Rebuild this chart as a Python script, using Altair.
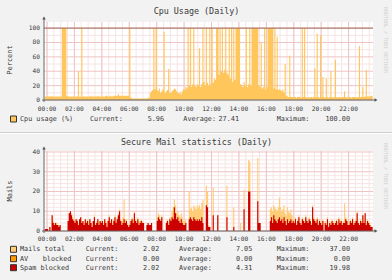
import altair as alt
import pandas as pd

# ---------------- data (5-minute steps, first step starts 23:50 of the previous day) -------------
cpu_usage = [
    5, 5,
    5, 5, 5, 6, 5, 5, 5, 5, 5, 5, 5, 5,            # 00
    5, 100, 100, 100, 100, 6, 5, 5, 5, 5, 5, 5,    # 01
    5, 5, 5, 40, 5, 5, 100, 5, 5, 5, 5, 5,         # 02
    5, 5, 6, 5, 5, 5, 5, 5, 6, 5, 5, 5,            # 03
    5, 5, 5, 6, 6, 5, 5, 6, 5, 5, 6, 6,            # 04
    6, 6, 8, 6, 6, 6, 6, 6, 6, 6, 6, 6,            # 05
    100, 3, 2, 2, 2, 2, 2, 2, 2, 2, 2, 2,          # 06
    2, 2, 2, 2, 3, 3, 10, 12, 14, 100, 15, 100,    # 07
    14, 12, 16, 10, 12, 15, 95, 10, 12, 14, 43, 10,  # 08
    10, 12, 14, 16, 15, 12, 10, 9, 11, 8, 12, 15,  # 09
    14, 18, 16, 100, 20, 100, 18, 22, 100, 20, 18, 22,  # 10
    20, 72, 18, 22, 100, 25, 20, 100, 24, 20, 100, 22,  # 11
    100, 24, 30, 28, 100, 100, 35, 100, 40, 100, 38, 42,  # 12
    100, 38, 35, 100, 30, 100, 25, 100, 28, 100, 100, 100,  # 13
    100, 22, 20, 18, 25, 20, 100, 18, 22, 100, 20, 100,  # 14
    100, 100, 100, 100, 100, 20, 18, 80, 16, 18, 100, 15,  # 15
    18, 100, 100, 100, 100, 100, 16, 100, 15, 88, 14, 15,  # 16
    14, 12, 15, 10, 50, 6, 5, 4, 62, 4, 4, 4,      # 17
    4, 4, 3, 4, 4, 4, 3, 100, 4, 100, 4, 3,        # 18
    4, 3, 4, 4, 3, 4, 44, 4, 92, 4, 3, 90,         # 19
    4, 32, 4, 3, 30, 4, 3, 4, 40, 4, 3, 4,         # 20
    56, 4, 3, 4, 4, 3, 4, 4, 12, 4, 3, 4,          # 21
    4, 4, 3, 4, 4, 4, 3, 4, 4, 75, 4, 4,           # 22
    18, 4, 5, 42, 5, 5, 5, 6, 6,                   # 23
]

mails_total = [
    1, 1,
    1, 0, 2, 0, 8, 5, 4, 4, 4, 3, 3, 3,            # 00
    0, 0, 0, 0, 0, 0, 5, 9, 10, 9, 7, 6,           # 01
    5, 6, 6, 4, 6, 7, 5, 5, 4, 6, 5, 6,            # 02
    4, 6, 5, 3, 5, 8, 4, 5, 6, 4, 5, 5,            # 03
    5, 4, 6, 5, 3, 6, 8, 5, 6, 4, 6, 8,            # 04
    5, 7, 9, 11, 6, 5, 7, 16, 6, 6, 4, 3,          # 05
    4, 6, 7, 6, 10, 6, 5, 7, 5, 5, 6, 5,           # 06
    4, 0, 0, 3, 4, 3, 3, 4, 0, 0, 0, 0,            # 07
    7, 9, 8, 6, 8, 0, 0, 0, 5, 6, 4, 7,            # 08
    7, 10, 12, 16, 13, 9, 10, 8, 7, 9, 7, 5,       # 09
    5, 6, 0, 0, 20, 11, 12, 10, 13, 12, 11, 13,    # 10
    12, 13, 11, 14, 16, 0, 0, 23, 20, 3, 2, 0,     # 11
    0, 22, 0, 0, 0, 8, 0, 0, 0, 0, 0, 0,           # 12
    0, 23, 0, 0, 0, 0, 0, 12, 0, 0, 0, 0,          # 13
    0, 4, 0, 0, 21, 0, 0, 0, 36, 35, 0, 0,         # 14
    0, 0, 0, 0, 37, 4, 4, 0, 0, 0, 0, 0,           # 15
    0, 0, 0, 11, 12, 10, 13, 12, 11, 10, 12, 17,   # 16
    12, 10, 11, 13, 9, 8, 12, 10, 9, 11, 8, 6,     # 17
    5, 7, 4, 6, 8, 5, 4, 7, 6, 5, 8, 6,            # 18
    5, 7, 6, 4, 13, 7, 6, 5, 7, 4, 6, 5,           # 19
    4, 6, 0, 5, 4, 7, 3, 5, 4, 6, 5, 4,            # 20
    5, 6, 4, 7, 5, 6, 4, 5, 14, 7, 6, 4,           # 21
    4, 6, 5, 7, 4, 5, 6, 10, 5, 4, 6, 5,           # 22
    8, 5, 9, 4, 6, 5, 4, 3, 2,                     # 23
]

spam_blocked = [
    1, 1,
    1, 0, 2, 0, 8, 4, 3, 4, 3, 3, 2, 3,            # 00
    0, 0, 0, 0, 0, 0, 5, 9, 10, 8, 6, 5,           # 01
    4, 6, 5, 3, 6, 7, 4, 5, 3, 6, 4, 5,            # 02
    3, 6, 4, 2, 5, 7, 3, 4, 6, 3, 5, 4,            # 03
    5, 3, 6, 4, 2, 5, 7, 4, 6, 3, 5, 7,            # 04
    4, 6, 8, 10, 5, 3, 4, 6, 4, 5, 3, 2,           # 05
    3, 5, 6, 4, 9, 5, 4, 6, 3, 4, 5, 4,            # 06
    4, 0, 0, 3, 4, 3, 3, 4, 0, 0, 0, 0,            # 07
    5, 7, 6, 5, 7, 0, 0, 0, 4, 5, 3, 6,            # 08
    5, 7, 6, 12, 9, 6, 7, 5, 4, 6, 4, 3,           # 09
    3, 4, 0, 0, 6, 7, 6, 5, 7, 6, 5, 6,            # 10
    5, 6, 5, 7, 4, 0, 0, 13, 12, 2, 2, 0,          # 11
    0, 8, 0, 0, 0, 8, 0, 0, 0, 0, 0, 0,            # 12
    0, 7, 0, 0, 0, 0, 0, 2, 0, 0, 0, 0,            # 13
    0, 0, 0, 0, 11, 0, 0, 0, 20, 20, 0, 0,         # 14
    0, 0, 0, 0, 15, 4, 4, 0, 0, 0, 0, 0,           # 15
    0, 0, 0, 5, 7, 4, 8, 6, 5, 4, 6, 7,            # 16
    5, 6, 4, 7, 5, 3, 6, 4, 5, 6, 4, 5,            # 17
    4, 6, 3, 5, 7, 4, 3, 6, 5, 4, 7, 5,            # 18
    4, 6, 5, 3, 12, 6, 5, 4, 6, 3, 5, 4,           # 19
    3, 5, 0, 4, 3, 6, 2, 4, 3, 5, 4, 3,            # 20
    4, 5, 3, 6, 4, 5, 3, 4, 4, 6, 5, 3,            # 21
    3, 5, 4, 6, 3, 4, 5, 9, 4, 3, 5, 4,            # 22
    8, 4, 9, 3, 5, 4, 3, 2, 2,                     # 23
]

hour_ticks = [0, 2, 4, 6, 8, 10, 12, 14, 16, 18, 20, 22]
hour_labels = ["00:00", "02:00", "04:00", "06:00", "08:00", "10:00",
               "12:00", "14:00", "16:00", "18:00", "20:00", "22:00"]
half_hours = [0, 0.5, 1, 1.5, 2, 2.5, 3, 3.5, 4, 4.5, 5, 5.5, 6, 6.5, 7, 7.5,
              8, 8.5, 9, 9.5, 10, 10.5, 11, 11.5, 12, 12.5, 13, 13.5, 14, 14.5,
              15, 15.5, 16, 16.5, 17, 17.5, 18, 18.5, 19, 19.5, 20, 20.5, 21,
              21.5, 22, 22.5, 23, 23.5]
cpu_ticks = [0, 20, 40, 60, 80, 100]
cpu_minor = [10, 30, 50, 70, 90]
mail_ticks = [0, 10, 20, 30, 40]
mail_minor = [2, 4, 6, 8, 12, 14, 16, 18, 22, 24, 26, 28, 32, 34, 36, 38]

cpu_legend = ["5.96", "27.41", "100.00"]
mail_legend = [["2.02", "7.05", "37.00"], ["0.00", "0.00", "0.00"], ["2.02", "4.31", "19.98"]]

# ---------------- layout / style ---------------------------------------------------------------
FONT = "DejaVu Sans Mono"
TXT = "#3a3a3a"
X0, X1 = 44, 373
T0, T1 = -0.22, 23.78
C_TOP, C_BOT = 22, 100
M_TOP, M_BOT = 151, 231
MINOR = "#f7e4e4"
MAJOR = "#efc4c4"
C_CPU = "#ffc65c"
C_TOTAL = "#ffcc77"
C_AV = "#ff9900"
C_SPAM = "#cc0000"
LEG = 6.8

xs = alt.Scale(domain=[T0, T1], range=[X0, X1], nice=False, zero=False)
cs = alt.Scale(domain=[0, 108.5], range=[C_BOT, C_TOP], nice=False, zero=False)
ms = alt.Scale(domain=[0, 40.5], range=[M_BOT, M_TOP], nice=False, zero=False)


def series(vals):
    step = 5 / 60
    t = [(-10 / 60) + i * step for i in range(len(vals))]
    t.append(t[-1] + step)
    v = list(vals) + [vals[-1]]
    return pd.DataFrame({"t": t, "v": v})


ONE = pd.DataFrame({"a": [0]})


def text(s, x, y, align="left", size=LEG, color=TXT, angle=0):
    kw = dict(text=s, align=align, baseline="middle", font=FONT, fontSize=size, color=color)
    if angle:
        kw["angle"] = angle
    return alt.Chart(ONE).mark_text(**kw).encode(x=alt.value(x), y=alt.value(y))


def rect(x, x2, y, y2, fill, stroke=None):
    kw = dict(color=fill)
    if stroke:
        kw["stroke"] = stroke
        kw["strokeWidth"] = 1
    return alt.Chart(ONE).mark_rect(**kw).encode(
        x=alt.value(x), x2=alt.value(x2), y=alt.value(y), y2=alt.value(y2))


def hline(x, x2, y, color, w=1):
    return alt.Chart(ONE).mark_rule(color=color, strokeWidth=w).encode(
        x=alt.value(x), x2=alt.value(x2), y=alt.value(y))


def vline(x, y, y2, color, w=1):
    return alt.Chart(ONE).mark_rule(color=color, strokeWidth=w).encode(
        x=alt.value(x), y=alt.value(y), y2=alt.value(y2))


def arrow(x, y, shape):
    return alt.Chart(ONE).mark_point(shape=shape, filled=True, size=12, color="#555", opacity=1).encode(
        x=alt.value(x), y=alt.value(y))


def vgrid(vals, top, bot, color):
    return alt.Chart(pd.DataFrame({"t": vals})).mark_rule(color=color, strokeWidth=1).encode(
        x=alt.X("t:Q", scale=xs, axis=None), y=alt.value(top), y2=alt.value(bot))


def hgrid(vals, scale, color):
    return alt.Chart(pd.DataFrame({"v": vals})).mark_rule(color=color, strokeWidth=1).encode(
        y=alt.Y("v:Q", scale=scale, axis=None), x=alt.value(X0), x2=alt.value(X1))


def area(vals, scale, color):
    return alt.Chart(series(vals)).mark_area(interpolate="step-after", color=color, opacity=1).encode(
        x=alt.X("t:Q", scale=xs, axis=None), y=alt.Y("v:Q", scale=scale, axis=None))


def xlabels(y):
    df = pd.DataFrame({"t": hour_ticks, "lab": hour_labels})
    return alt.Chart(df).mark_text(font=FONT, fontSize=6.2, color=TXT, baseline="middle", align="center").encode(
        x=alt.X("t:Q", scale=xs, axis=None), y=alt.value(y), text="lab:N")


def ylabels(vals, scale):
    df = pd.DataFrame({"v": vals, "lab": [str(v) for v in vals]})
    return alt.Chart(df).mark_text(font=FONT, fontSize=6.2, color=TXT, baseline="middle", align="right").encode(
        y=alt.Y("v:Q", scale=scale, axis=None), x=alt.value(40), text="lab:N")


layers = [
    # panel frames
    rect(0, 392, 0, 132, "#f2f2f2"),
    rect(0, 392, 134, 280, "#f2f2f2"),
    hline(0, 392, 132.5, "#cfcfcf"),
    hline(0, 392, 133.5, "#ffffff"),
    # plot backgrounds
    rect(X0, X1, C_TOP, C_BOT, "#ffffff"),
    rect(X0, X1, M_TOP, M_BOT, "#ffffff"),
    # grids
    vgrid(half_hours, C_TOP, C_BOT, MINOR),
    hgrid(cpu_minor, cs, MINOR),
    vgrid(hour_ticks, C_TOP, C_BOT, MAJOR),
    hgrid(cpu_ticks, cs, MAJOR),
    vgrid(half_hours, M_TOP, M_BOT, MINOR),
    hgrid(mail_minor, ms, MINOR),
    vgrid(hour_ticks, M_TOP, M_BOT, MAJOR),
    hgrid(mail_ticks, ms, MAJOR),
    # data
    area(cpu_usage, cs, C_CPU),
    area(mails_total, ms, C_TOTAL),
    area(spam_blocked, ms, C_SPAM),
    # 100% rule
    alt.Chart(pd.DataFrame({"v": [100]})).mark_rule(color="#a06a5a", strokeWidth=1).encode(
        y=alt.Y("v:Q", scale=cs, axis=None), x=alt.value(X0), x2=alt.value(X1)),
    # axes
    hline(X0 - 2, X1 + 2, C_BOT, "#666666"),
    vline(X0, 18, C_BOT + 2, "#666666"),
    arrow(X1 + 3, C_BOT, "triangle-right"),
    arrow(X0, 18, "triangle-up"),
    hline(X0 - 2, X1 + 2, M_BOT, "#666666"),
    vline(X0, 148, M_BOT + 2, "#666666"),
    arrow(X1 + 3, M_BOT, "triangle-right"),
    arrow(X0, 148, "triangle-up"),
    # tick labels
    xlabels(108.5),
    ylabels(cpu_ticks, cs),
    xlabels(239),
    ylabels(mail_ticks, ms),
    # titles
    text("Cpu Usage (Daily)", 196.5, 11, "center", 8.4),
    text("Secure Mail statistics (Daily)", 196.5, 141.5, "center", 8.4),
    text("Percent", 10, 60, "center", 7, angle=270),
    text("Mails", 10, 191, "center", 7, angle=270),
    text("RRDTOOL / TOBI OETIKER", 386, 40, "center", 5, "#d0d0d0", angle=90),
    text("RRDTOOL / TOBI OETIKER", 386, 176, "center", 5, "#d0d0d0", angle=90),
    # cpu legend
    rect(10.5, 16.5, 116, 122, C_CPU, "#333333"),
    text("Cpu usage (%)", 20, 119),
    text("Current:", 90, 119),
    text(cpu_legend[0], 164, 119, "right"),
    text("Average:", 183.3, 119),
    text(cpu_legend[1], 239, 119, "right"),
    text("Maximum:", 276.7, 119),
    text(cpu_legend[2], 350, 119, "right"),
]

mail_rows = [(249.3, C_TOTAL), (258.7, C_AV), (267.7, C_SPAM)]
for (yy, col), vals in zip(mail_rows, mail_legend):
    layers.append(rect(10.5, 16.5, yy - 3, yy + 3, col, "#333333"))
    layers.append(text("Current:", 85.7, yy))
    layers.append(text(vals[0], 159.3, yy, "right"))
    layers.append(text("Average:", 179, yy))
    layers.append(text(vals[1], 252.3, yy, "right"))
    layers.append(text("Maximum:", 276.7, yy))
    layers.append(text(vals[2], 350, yy, "right"))

layers.append(text("Mails total", 20, 249.3))
layers.append(text("AV", 20, 258.7))
layers.append(text("blocked", 42.7, 258.7))
layers.append(text("Spam blocked", 20, 267.7))

chart = alt.layer(*layers).resolve_scale(y="independent").properties(
    width=392, height=280, autosize="none", padding=0, background="#f2f2f2"
).configure_view(stroke=None)

chart.save("out.html", embed_options={"renderer": "svg", "actions": False})
